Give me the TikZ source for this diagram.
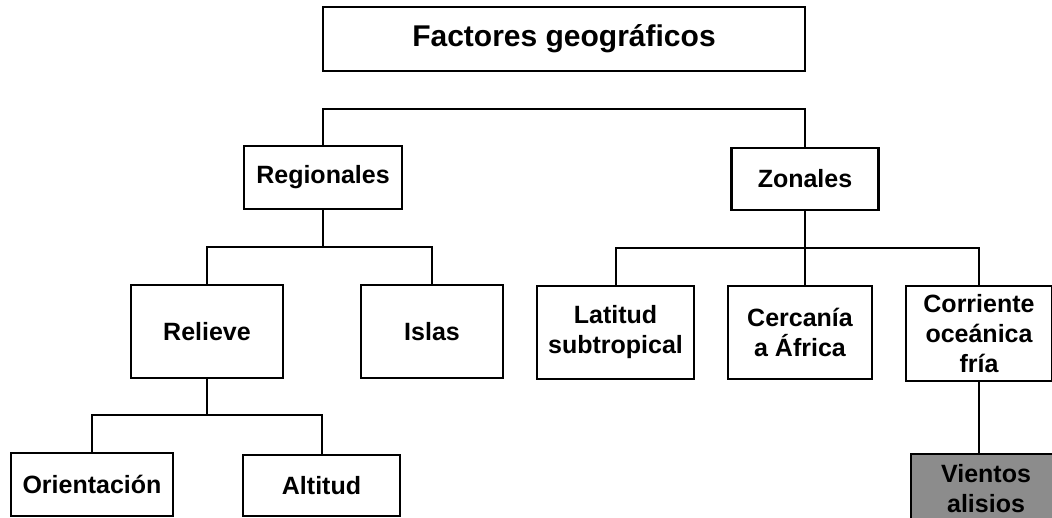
\documentclass[tikz,border=0pt]{standalone}
\usepackage{fontspec}
\setmainfont{Liberation Sans}
\begin{document}
\begin{tikzpicture}[x=1pt,y=-1pt,
  box/.style={draw=black,line width=2.2pt,fill=white,inner sep=0pt,align=center,
    font=\fontsize{25}{30}\selectfont\bfseries},
  conn/.style={draw=black,line width=2pt}]
\clip (0,0) rectangle (1052,517);
\fill[white] (0,0) rectangle (1052,517);
% nodes
\node[box,minimum width=482pt,minimum height=64pt,font=\fontsize{30}{36}\selectfont\bfseries] (t) at (564,39) {Factores geográficos};
\node[box,minimum width=158pt,minimum height=63pt] (reg) at (323,177.5) {Regionales};
\node[box,minimum width=147pt,minimum height=62pt] (zon) at (805,179) {Zonales};
\node[box,minimum width=152pt,minimum height=93pt] (rel) at (207,331.5) {Relieve};
\node[box,minimum width=142pt,minimum height=93pt] (isl) at (432,331.5) {Islas};
\node[box,minimum width=157pt,minimum height=93pt] (lat) at (615.5,332.5) {Latitud\\subtropical};
\node[box,minimum width=144pt,minimum height=93pt] (cer) at (800,332.5) {Cercanía\\a África};
\node[box,minimum width=146pt,minimum height=95pt] (cor) at (979,333.5) {Corriente\\oceánica\\fría};
\node[box,minimum width=162pt,minimum height=63pt] (ori) at (92,484.5) {Orientación};
\node[box,minimum width=157pt,minimum height=61pt] (alt) at (321.5,485.5) {Altitud};
\node[box,fill=black!45,minimum width=150pt,minimum height=69pt] (vie) at (986,488.5) {Vientos\\alisios};
% connectors
\coordinate (b1) at (564,109);
\coordinate (b2) at (reg.south |- 0,247);
\coordinate (b3) at (zon.south |- 0,248);
\coordinate (b4) at (rel.south |- 0,415);
\draw[conn] (reg.north) |- (b1) -| (zon.north);
\draw[conn] (reg.south) -- (b2);
\draw[conn] (rel.north) |- (b2) -| (isl.north);
\draw[conn] (zon.south) -- (b3);
\draw[conn] (lat.north) |- (b3) -| (cor.north);
\draw[conn] (b3) -- (b3 |- cer.north);
\draw[conn] (rel.south) -- (b4);
\draw[conn] (ori.north) |- (b4) -| (alt.north);
\draw[conn] (cor.south) -- (cor.south |- vie.north);
\end{tikzpicture}
\end{document}
